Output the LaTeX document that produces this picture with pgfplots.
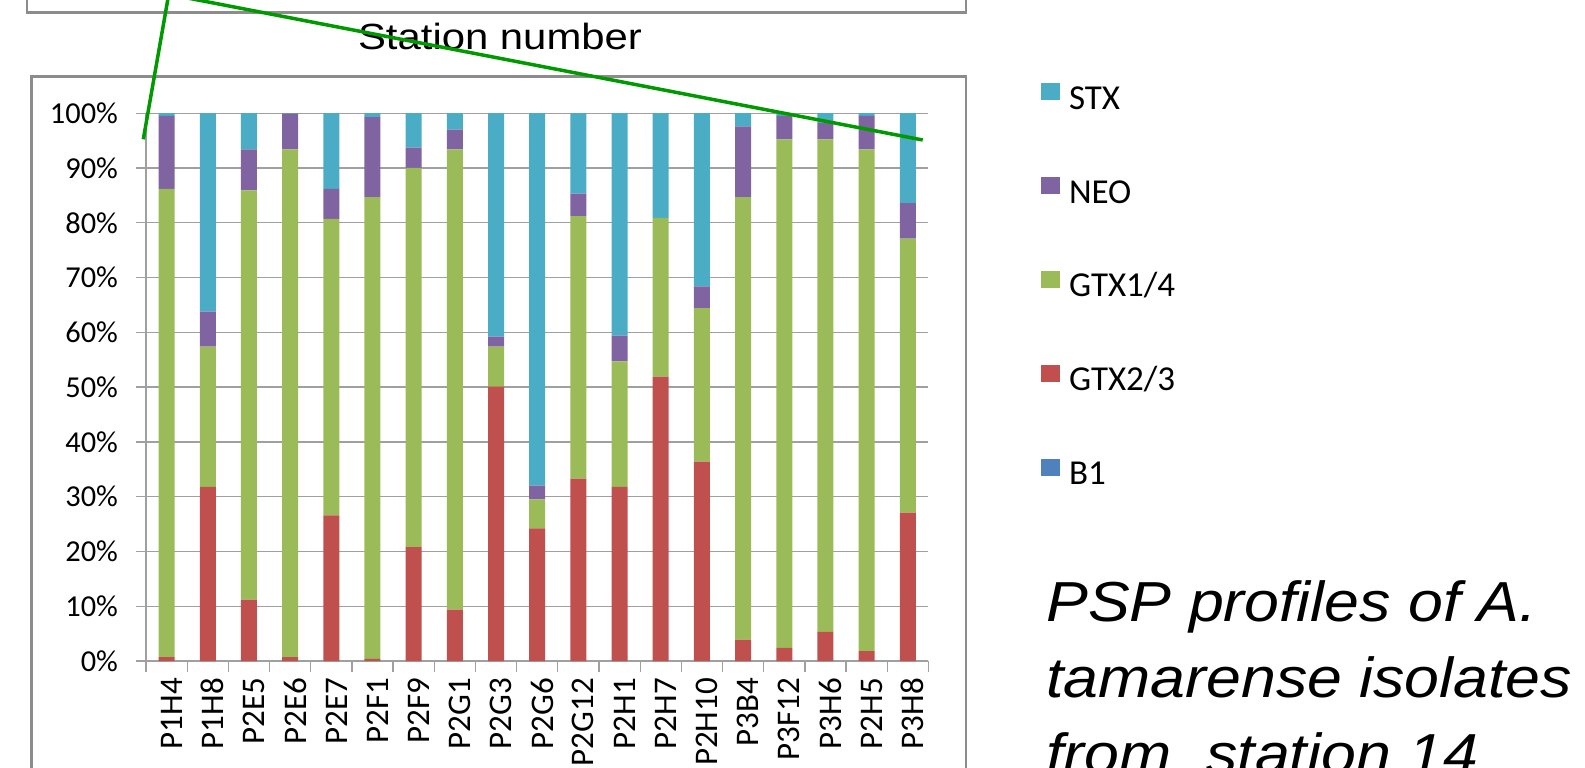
\documentclass[border=0pt]{standalone}
\usepackage{fontspec}
\setmainfont{Carlito}
\newfontfamily\arial{Liberation Sans}
\usepackage{pgfplots}
\usepackage{pgfplotstable}
\pgfplotsset{compat=1.18}

\definecolor{stx}{HTML}{4BACC6}
\definecolor{neo}{HTML}{8064A2}
\definecolor{gtxa}{HTML}{9BBB59}
\definecolor{gtxb}{HTML}{C0504D}
\definecolor{bone}{HTML}{4F81BD}
\definecolor{gridc}{HTML}{A0A0A0}
\definecolor{framec}{HTML}{8C8C8C}
\definecolor{linec}{HTML}{009A00}

% percent of each toxin per isolate (stacked: B1, GTX2/3, GTX1/4, NEO, STX)
\pgfplotstableread{
x  b1 gtxb gtxa neo  stx
0  0  0.7  85.5 13.3 0.5
1  0  31.8 25.6 6.4  36.2
2  0  11.2 74.7 7.5  6.6
3  0  0.7  92.7 6.5  0.1
4  0  26.6 54.1 5.5  13.8
5  0  0.4  84.3 14.6 0.7
6  0  20.8 69.2 3.7  6.3
7  0  9.4  84.0 3.6  3.0
8  0  50.1 7.3  1.8  40.8
9  0  24.2 5.3  2.5  68.0
10 0  33.3 47.9 4.1  14.7
11 0  31.8 22.9 4.7  40.6
12 0  51.9 29.0 0.0  19.1
13 0  36.4 28.0 4.0  31.6
14 0  3.9  80.8 12.9 2.4
15 0  2.4  92.8 4.3  0.5
16 0  5.3  89.9 3.0  1.8
17 0  1.8  91.6 6.1  0.5
18 0  27.1 50.0 6.5  16.4
}\psp

\begin{document}
\begin{tikzpicture}[x=0.5pt,y=0.5pt]
\useasboundingbox (0,0) rectangle (1585,767);
\begin{scope}
\clip (0,0) rectangle (1585,767);

% slide frames
\draw[framec, line width=1.3pt] (27,790) -- (27,754.7) -- (966,754.7) -- (966,790);
\draw[framec, line width=1.3pt] (31.7,-20) -- (31.7,690.3) -- (966,690.3) -- (966,-20);

\node[font=\arial\fontsize{18.2}{20}\selectfont, anchor=base, xscale=1.15] at (500,717.7) {Station number};

\begin{axis}[
    at={(73pt,53pt)}, anchor=south west,
    scale only axis,
    width=391.2pt, height=273.9pt,
    ybar stacked,
    bar width=8pt,
    xmin=-0.5, xmax=18.5,
    ymin=0, ymax=100,
    xtick={0,...,18},
    xticklabels={P1H4,P1H8,P2E5,P2E6,P2E7,P2F1,P2F9,P2G1,P2G3,P2G6,P2G12,P2H1,P2H7,P2H10,P3B4,P3F12,P3H6,P2H5,P3H8},
    major x tick style={draw=none},
    minor xtick={-0.5,0.5,...,18.5},
    ytick={0,10,...,100},
    yticklabels={0\%,10\%,20\%,30\%,40\%,50\%,60\%,70\%,80\%,90\%,100\%},
    ymajorgrids,
    grid style={gridc, line width=0.65pt},
    axis lines*=left,
    axis line style={gridc, line width=0.65pt},
    tick align=outside,
    major tick length=5pt,
    minor tick length=5.5pt,
    tick style={gridc, line width=0.65pt},
    xticklabel style={rotate=90, anchor=east, yshift=-2.5pt, font=\fontsize{16.5}{16.5}\selectfont},
    yticklabel style={xshift=-5.5pt, font=\fontsize{15.2}{15.2}\selectfont},
    legend style={at={(axis description cs:1.144,1.0547)}, anchor=north west,
        draw=none, fill=none, inner sep=0pt, outer sep=0pt,
        font=\fontsize{17.5}{17.5}\selectfont, row sep=29pt,
        nodes={text height=10pt, text depth=3pt, inner sep=2pt}},
    legend cell align=left,
    legend image code/.code={\fill[#1] (0pt,0.95pt) rectangle (9.5pt,9.45pt); \path (12pt,5pt);},
    reverse legend,
]
\addplot[fill=bone, draw=none] table[x=x, y=b1] {\psp};
\addplot[fill=gtxb, draw=none] table[x=x, y=gtxb] {\psp};
\addplot[fill=gtxa, draw=none] table[x=x, y=gtxa] {\psp};
\addplot[fill=neo, draw=none] table[x=x, y=neo] {\psp};
\addplot[fill=stx, draw=none] table[x=x, y=stx] {\psp};
\legend{B1, GTX2/3, GTX1/4, NEO, STX}
\end{axis}

% green call-out lines
\draw[linec, line width=1.75pt] (143.3,627.7) -- (168.6,772);
\draw[linec, line width=1.75pt] (172,772) -- (922.7,627);

\node[font=\arial\itshape\fontsize{28.2}{30}\selectfont, anchor=base west, xscale=1.11, inner sep=0pt] at (1046,146) {PSP profiles of A.};
\node[font=\arial\itshape\fontsize{28.2}{30}\selectfont, anchor=base west, xscale=1.11, inner sep=0pt] at (1046,70) {tamarense isolates};
\node[font=\arial\itshape\fontsize{28.2}{30}\selectfont, anchor=base west, xscale=1.11, inner sep=0pt] at (1046,-6) {from\ \ station 14};
\end{scope}
\end{tikzpicture}
\end{document}
